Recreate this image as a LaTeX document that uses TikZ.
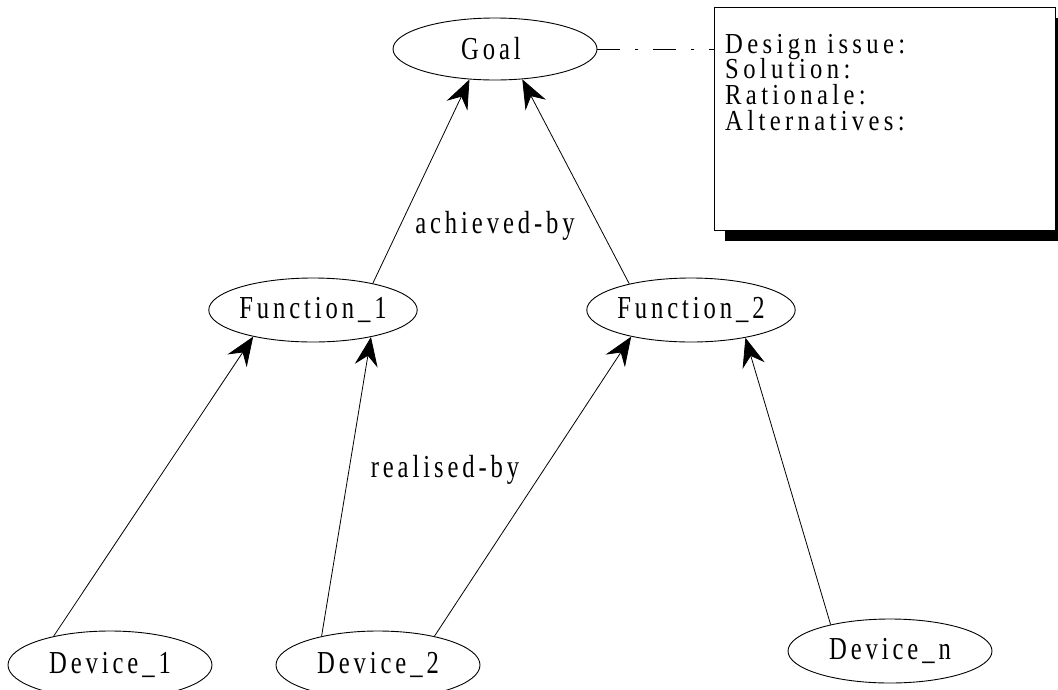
\documentclass[tikz,border=0pt]{standalone}
\usepackage{fontspec}
\usetikzlibrary{shapes.geometric,arrows.meta,shadows}
\newfontfamily\lblfont[FakeStretch=0.77,LetterSpace=12.2]{Liberation Serif}
\newfontfamily\boxfont[FakeStretch=0.85,LetterSpace=15]{Liberation Serif}
\begin{document}
\begin{tikzpicture}[x=1pt,y=-1pt,
  txt/.style={font={\lblfont\fontsize{32}{25.7}\selectfont}},
  btxt/.style={font={\boxfont\fontsize{29}{25.7}\selectfont},inner sep=0pt,anchor=base west},
  oval/.style={draw,ellipse,line width=0.9pt,inner sep=0pt,minimum width=204pt,minimum height=64pt,txt},
  conn/.style={line width=0.8pt,-{Stealth[length=29pt,width=23pt,inset=10pt]}},
  lbl/.style={txt,inner sep=0pt}]
\useasboundingbox (0,0) rectangle (1058,689);
\node[oval,minimum height=62pt] (goal) at (495,49) {\hspace*{-8pt}Goal};
\node[oval] (f1) at (313,310) {Function\_1};
\node[oval] (f2) at (691,310) {Function\_2};
\node[oval,minimum height=68pt] (d1) at (110,665) {Device\_1};
\node[oval,minimum height=68pt] (d2) at (378,665) {Device\_2};
\node[oval] (dn) at (890,651) {Device\_n};
\node[draw,line width=0.9pt,fill=white,minimum width=341pt,minimum height=223pt,inner sep=0pt,
  drop shadow={shadow xshift=11pt,shadow yshift=-11pt,opacity=1,fill=black}] (info) at (884.5,118.5) {};
\node[btxt] (t1) at (725,53) {Design issue:};
\node[btxt] (t2) at (725,78.7) {Solution:};
\node[btxt] (t3) at (725,104.4) {Rationale:};
\node[btxt] (t4) at (725,130.1) {Alternatives:};
\draw[line width=0.8pt,dash pattern=on 23pt off 15pt on 3pt off 15pt] (goal.east) -- (goal.east -| info.west);
\draw[conn] (f1.24.6) -- (goal.230);
\draw[conn] (f2.157) -- (goal.312);
\draw[conn] (d1.153) -- (f1.204);
\draw[conn] (d2.153) -- (f1.335);
\draw[conn] (d2.27) -- (f2.204);
\draw[conn] (dn.156) -- (f2.333);
\node[lbl] (ach) at (495,226) {achieved-by};
\node[lbl] (rea) at (445,470) {realised-by};
\end{tikzpicture}
\end{document}
